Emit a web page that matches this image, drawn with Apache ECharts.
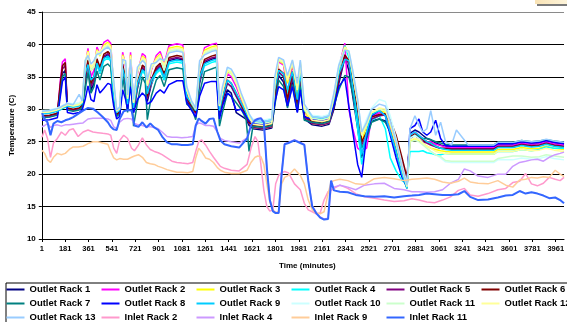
<!DOCTYPE html>
<html><head><meta charset="utf-8">
<script src="https://cdn.jsdelivr.net/npm/echarts@6/dist/echarts.min.js"></script>
<style>html,body{margin:0;padding:0;background:#fff}#c{width:567px;height:322px}</style>
</head><body><div id="c"></div>
<script>
// minutes at which outlet readings were sampled
const outletTimes = [1,60,120,143,159,181,197,242,288,311,334,356,379,402,425,448,478,509,531,554,577,600,623,646,661,684,707,737,775,798,813,844,882,912,943,980,1041,1087,1117,1155,1186,1216,1254,1307,1346,1369,1392,1430,1460,1498,1536,1574,1597,1627,1703,1772,1795,1825,1863,1893,1931,1969,1992,2023,2084,2160,2213,2251,2289,2335,2366,2396,2434,2465,2503,2541,2601,2647,2685,2730,2776,2814,2837,2875,2906,2936,2967,2997,3035,3073,3111,3157,3195,3286,3400,3484,3514,3629,3697,3773,3834,3887,3948,4024];
const inletTimes = [1,22,44,67,90,120,151,181,212,242,280,318,356,394,432,470,509,531,554,577,600,631,661,692,714,745,775,806,836,867,897,927,965,1003,1041,1079,1125,1163,1186,1209,1231,1262,1292,1323,1353,1376,1407,1460,1521,1582,1612,1643,1665,1688,1711,1734,1757,1780,1802,1825,1848,1871,1901,1947,1992,2023,2053,2084,2114,2145,2175,2206,2229,2251,2297,2358,2419,2487,2563,2639,2715,2791,2852,2906,2967,3027,3088,3149,3210,3256,3301,3362,3438,3514,3575,3629,3682,3728,3773,3819,3865,3910,3956,3994,4024];

const outletRack1 = [28.8,28.9,29.2,33,35.5,36,30.0,29.8,30.0,30.4, 34,37.1,33,34,37.3,35.5,38.0,38.4,37.9,31.5, 29.0,29.4,36.5,33.5,30,36.5,29.5,33.2,36.3,35.9, 31.2,33.8,36.0,36.6,34.5,37.5,37.8,37.6,31.2,30.3, 29.3,34,37.2,37.7,37.9,29,30.8,33,32.5,29.5, 29,28.5,27.5,27.0,26.8,27.1,31,35.2,34.2,30.5, 34.5,29.8,34.3,28.5,27.6,27.4,27.7,30,34,37.9, 36,32,27,22.5,26,28.2,28.5,28.2,26.5,23.5, 19.8,18,26.3,26.8,26.5,26,25.5,25.3,24.8,24.5, 24.3,24.2,24.2,24.2,24.2,24.2,24.6,24.6,24.9,24.7, 24.8,25.1,24.8,24.6];
const outletRack2 = [28.8,28.9,29.2,34.5,37.3,37.8,30.0,29.8,30.0,30.4, 36.5,39.4,35,36,39.6,38.5,40.3,40.7,40.2,33, 29.0,29.4,38.8,36.5,31,38.8,30.5,35.5,38.6,38.2, 33,36,38.3,38.9,37,39.8,40.1,39.9,32.5,30.3, 29.3,36.5,39.5,40.0,40.2,30.5,32,35.5,35,33.5, 31.5,29.5,28.5,27.8,27.6,27.9,33,37.3,36.8,32.5, 37,31,36.8,29.5,28.4,28.2,28.5,31.5,36.5,40.2, 30,27,24,23.5,24,28.8,29.5,29.3,27,23.5, 20,18.5,26,26.5,26,25.5,25,25,24.6,24.4, 24.2,24.1,24.1,24.1,24.1,24.1,24.5,24.5,24.8,24.6, 24.7,25.0,24.7,24.5];
const outletRack3 = [29.4,29.5,29.8,30.0,30.2,30.4,30.6,30.4,30.6,31.0, 37,39.0,36,36.5,39.2,38.2,39.9,40.3,39.8,33.5, 29.6,30.0,38.4,37,31.5,38.4,30.8,35.8,38.2,37.8, 33.5,36.3,37.9,38.5,36.5,39.4,39.7,39.5,32.8,30.9, 29.9,36.8,39.1,39.6,39.8,30.3,32.5,35.8,35.5,34, 31.8,29.8,28.5,27.2,27.0,27.3,33.5,37.5,37,34, 37.2,32,37,29.8,27.8,27.6,27.9,31.8,36.3,39.8, 38.5,35,30,25,27.5,29.3,29.8,29.5,27.5,24.5, 20.5,18,25,25.5,25.2,24.8,24.3,24,23.8,23.6, 23.5,23.4,23.4,23.4,23.4,23.4,23.8,23.8,24.1,23.9, 24.0,24.3,24.0,23.8];
const outletRack4 = [29.5,29.6,29.9,30.1,30.3,30.5,30.7,30.5,30.7,31.1, 35,36.6,34,34.5,36.8,35.5,37.5,37.9,37.4,31.8, 29.7,30.1,36.0,34,30.5,36.0,30,33.5,35.8,35.4, 32,34,35.5,36.1,34.5,37.0,37.3,37.1,31.8,31.0, 30.0,34.5,36.7,37.2,37.4,29.5,31.5,34,33.5,32, 30.8,29.3,28.6,28.4,28.2,28.5,33,35.5,35,32.5, 35.2,31,35,29.8,29.0,28.8,29.1,32,36,39.8, 38,33,27,21.5,25.5,28.3,29,27,22.5,20.5, 19,18.5,23.5,23.5,23.5,23.6,23.3,23.2,23,23, 23.2,23.1,23.1,23.1,23.1,23.1,23.5,23.5,23.8,23.6, 23.8,24.2,24.0,24.0];
const outletRack5 = [28.9,29.0,29.3,33.5,36.2,36.8,30.1,29.9,30.1,30.5, 34.5,37.3,33.5,34.5,37.5,36,38.2,38.6,38.1,31.8, 29.1,29.5,36.7,34,30.3,36.7,29.8,33.6,36.5,36.1, 31.6,34.2,36.2,36.8,35,37.7,38.0,37.8,31.5,30.4, 29.4,34.5,37.4,37.9,38.1,29.2,31.2,34,33.5,32, 30.5,28.8,27.8,27.2,27.0,27.3,31.5,35.8,35,31, 35.3,30.2,35,28.8,27.8,27.6,27.9,30.2,34.5,38.1, 37,33.5,29.5,24.5,26,28.5,29,29.1,28,25.5, 22,19.2,25.5,26,25.5,25,24.8,24.5,24.2,24, 24.0,23.9,23.9,23.9,23.9,23.9,24.3,24.3,24.6,24.4, 24.5,24.8,24.5,24.3];
const outletRack6 = [29.0,29.1,29.4,34,36.7,37.2,30.2,30.0,30.2,30.6, 35,37.6,34,35,37.8,36.5,38.5,38.9,38.4,32, 29.2,29.6,37.0,34.5,30.5,37.0,30,34,36.8,36.4, 32,34.6,36.5,37.1,35.5,38.0,38.3,38.1,31.8,30.5, 29.5,35,37.7,38.2,38.4,29.5,31.5,34.5,34,32.5, 30.8,29,28,27.5,27.3,27.6,32,36.2,35.5,31.5, 35.8,30.5,35.5,29,28.1,27.9,28.2,30.5,35,38.4, 37.5,34,30,25,26.5,28.8,29.2,29.3,28.3,26, 22.5,19.5,25.8,26.2,25.8,25.3,25,24.8,24.3,24, 23.9,23.8,23.8,23.8,23.8,23.8,24.2,24.2,24.5,24.3, 24.4,24.7,24.4,24.2];
const outletRack7 = [28.7,28.8,29.1,32.5,35.0,35.5,29.9,29.7,29.9,30.3, 33,35.7,32.5,33.5,35.9,34.5,36.6,37.0,36.5,31, 28.9,29.3,35.1,32,29.5,35.1,27.4,31,35,34, 28.4,32,34.5,35.2,33.5,36.1,36.4,36.2,30.8,30.2, 28.4,32.5,35.8,36.2,36.5,27.4,29.5,32.5,32,31, 30,28.5,23.5,27.4,27.2,27.5,30.5,34.5,33.5,30.2, 33.8,29.6,33.5,28.3,28.0,27.8,28.1,30.5,33,35.2, 35,32.5,28.5,24,25.5,28,28.5,28,26.5,23.5, 20,17.8,25.5,26,25.8,25.5,25.5,25.3,25,24.8, 24.6,24.5,24.5,24.5,24.5,24.5,24.9,24.9,25.2,25.0, 25.1,25.3,25.1,24.9];
const outletRack8 = [28.3,28.4,28.7,32,34.3,35.0,29.5,29.3,29.5,29.9, 31.5,33.6,31.5,31.2,33.8,32.5,33.2,34.0,33.8,30.5, 28.5,28.9,33,31.5,30,33.5,29.5,31.5,32.5,32, 30.8,31.2,32.5,33,32.5,33.8,34.4,34.4,31,29.8, 28.8,32,34,34.3,34.3,28.5,30.5,32.5,32,29.8, 30,29,28.2,27.9,27.7,28.0,31,33.5,33,30.5, 33.5,29.5,33,28.8,28.5,28.3,28.6,30.5,33.5,34.8, 30.5,26.5,21.5,19.5,26,29,29.8,29,26,22.5, 19.5,18,27,27.5,28.5,26.5,26,26.5,28.3,25.5, 24.4,24.3,24.3,24.3,24.3,24.3,24.7,24.7,25.0,24.8, 24.9,25.2,24.9,24.7];
const outletRack9 = [29.3,29.4,29.7,29.9,30.1,30.3,30.5,30.3,30.5,30.9, 35.5,36.9,34.5,35,37.1,36,37.8,38.2,37.7,32, 29.5,29.9,36.3,34.5,30.8,36.3,30.2,34,36.1,35.7, 32.4,34.5,35.8,36.4,35,37.3,37.6,37.4,32,30.8, 29.8,35,37.0,37.5,37.7,29.8,31.8,34.5,34,32.5, 31,29.5,28.6,28.1,27.9,28.2,33,36,35.5,33, 35.8,31.5,35.5,29.8,28.7,28.5,28.8,31.5,35.5,37.7, 37.5,33.5,28.5,23,26.5,29.2,29.8,29,26.5,23.5, 20,17.8,26,26.5,26,25.5,25,24.8,24.3,24, 23.8,23.7,23.7,23.7,23.7,23.7,24.1,24.1,24.4,24.2, 24.3,24.6,24.3,24.1];
const outletRack10 = [29.8,29.9,30.2,30.4,30.6,30.8,31.0,30.8,31.0,31.4, 37,38.6,36.5,36.8,38.8,38.5,39.5,39.9,39.4,34, 30.0,30.4,38.0,37.2,32,38.0,31.2,36,37.8,37.4, 34,36.5,37.5,38.1,36.2,39.0,39.3,39.1,33.2,31.3, 30.3,37.2,38.7,39.2,39.4,30.8,33,36.3,36,34.5, 32.2,30.5,29.3,28.5,28.3,28.6,34.5,37.8,37.5,35, 37.5,33.5,37.5,30.5,29.1,28.9,29.2,32.5,37,39.4, 39,36,31.5,26.5,28.5,30.2,31.5,31.2,29,25.5, 21.5,18.5,25.5,26,25.5,24.8,24,23.5,23,22.5, 21.9,21.8,21.8,21.8,21.8,21.8,22.2,22.2,22.5,22.3, 22.4,22.7,22.4,22.2];
const outletRack11 = [29.6,29.7,30.0,30.2,30.4,30.6,30.8,30.6,30.8,31.2, 36.8,38.5,36,36.5,38.7,38.4,39.4,39.8,39.3,33.8, 29.8,30.2,37.9,36.8,31.6,37.9,31,35.8,37.7,37.3, 33.6,36.3,37.4,38.0,36,38.9,39.2,39.0,33,31.1, 30.1,37,38.6,39.1,39.3,30.5,32.8,36,35.5,34, 32,30.2,29,28.0,27.8,28.1,34,37.6,37.2,34.5, 37.3,33,37.2,30.2,28.6,28.4,28.7,32.2,36.5,39.3, 38.7,35.5,31,26,27.5,29.5,30,29.8,27.8,24.8, 20.8,18,25,25.2,25,24.5,24,23.5,23,22.7, 22.1,22.0,22.0,22.0,22.0,22.0,22.4,22.8,22.8,22.6, 22.7,23.0,22.8,22.6];
const outletRack12 = [29.5,29.6,29.9,30.1,30.3,30.5,30.7,30.5,30.7,31.1, 37.5,38.8,36.5,37,39.0,38.8,39.7,40.1,39.6,34, 29.7,30.1,38.2,37,31.8,38.2,31,36,38.0,37.6, 33.8,36.6,37.7,38.3,36.8,39.2,39.5,39.3,33,31.0, 30.0,37,38.9,39.4,39.6,30.5,32.8,36,35.8,34.3, 32,30,28.8,27.7,27.5,27.8,34,37.8,37.3,34.5, 37.5,33,37.3,30,28.3,28.1,28.4,32,36.5,39.6, 38.8,35.5,31,26,27.8,29.5,30.2,30,28,25, 21,18.2,25.3,25.5,25.3,24.8,24.3,24,23.5,23.3, 23.2,23.1,23.1,23.1,23.1,23.1,23.5,23.5,23.8,23.6, 23.7,24.0,23.7,23.5];
const outletRack13 = [29.7,29.8,30.1,30.3,30.5,30.7,30.9,30.7,32.3,31.3, 37.5,38.3,37,37.5,38.5,38.6,39.2,39.6,39.1,34.5, 29.9,30.3,37.7,37.5,32.2,37.7,31.5,36.5,37.5,37.1, 34.5,37,37.2,37.8,37.5,38.7,39.0,38.8,33.5,31.2, 30.2,37.5,38.4,38.9,39.1,30.8,33.5,36.5,36.2,34.8, 32.5,30.6,29.3,28.3,28.1,28.4,35,38,37.6,35.2, 37.6,34,37.6,30.8,28.9,28.7,29.0,32.5,36.8,39.1, 39,36,31.5,26.5,28,30,30.8,30.5,28.2,25, 21,18.3,27,29,27.5,26.5,27,29.8,26,28, 25.0,24.5,26.8,24.5,24.5,24.5,24.9,24.9,25.2,25.0, 25.1,25.4,25.1,24.9];

const inletRack2 = [25.7,26.8,25.5,22.6,24.8,25.5,26.5,26.0,26.8,27.0, 25.8,26.5,26.8,26.5,26.4,26.3,26.2,26.0,24.0,23.2, 25.2,26.0,25.5,24.0,23.6,24.5,25.6,24.5,23.8,23.5, 23.3,23.0,22.5,22.0,21.8,21.7,21.6,21.8,23.5,25.0, 25.3,24.5,23.5,22.6,21.8,21.2,20.9,20.6,20.5,21.5, 24.0,25.8,25.0,21.5,17.5,15.0,14.3,14.5,18.5,19.8, 20.2,20.4,20.2,18.5,17.6,15.5,14.5,14.2,13.9,14.0, 16.0,17.3,17.5,17.8,18.3,17.8,17.0,16.5,16.3,16.0, 15.8,15.9,16.2,16.0,15.7,15.6,16.0,16.5,17.5,17.8, 16.8,16.6,17.0,17.6,17.8,18.7,18.9,20.1,18.5,18.2, 18.6,19.5,19.2,19.0,19.5];
const inletRack4 = [27.3,27.5,27.8,27.2,27.5,27.6,27.4,27.6,27.6,27.7, 27.8,27.9,28.5,28.6,28.6,28.6,28.5,28.3,27.3,27.0, 28.0,28.5,28.6,28.5,27.8,27.6,27.5,27.3,27.3,27.2, 27.0,26.5,25.8,25.7,25.7,25.6,25.7,25.8,27.5,27.9, 27.8,27.5,27.5,27.4,26.5,25.5,25.2,25.0,24.8,25.6, 27.6,28.4,28.6,28.7,28.1,21.1,16.1,14.4,14.1,14.1, 20.1,24.7,24.9,25.3,24.9,24.6,19.1,15.1,14.1,13.4, 13.1,13.2,18.0,18.0,18.3,18.0,17.6,18.3,18.5,18.6, 17.8,17.6,17.3,17.3,17.2,17.3,17.6,18.6,19.2,20.8, 20.5,19.7,19.5,20.0,20.0,21.2,21.8,22.0,22.2,22.3, 22.0,22.6,23.0,23.2,23.4];
const inletRack9 = [23.7,23.2,22.2,21.8,22.6,23.2,23.0,23.2,23.8,24.2, 24.2,24.3,24.7,25.0,25.0,24.8,24.6,23.5,22.5,22.2, 22.4,22.3,22.3,22.6,22.8,23.0,22.6,21.8,21.6,21.5, 21.2,21.0,20.7,20.5,20.3,20.3,20.2,20.4,22.5,24.0, 23.5,22.5,22.3,21.8,21.0,20.6,20.3,20.1,20.1,20.6, 21.8,22.6,22.8,22.7,21.5,18.5,15.8,14.5,14.0,14.3, 18.5,19.5,19.8,20.8,19.8,18.5,16.0,14.5,14.0,13.9, 14.2,17.0,18.8,19.0,19.2,19.0,18.5,18.4,19.3,19.5, 19.3,19.0,19.2,19.3,19.4,19.2,18.8,18.6,18.9,19.4, 18.8,18.6,18.5,19.0,18.3,18.0,19.1,19.2,19.5,19.4, 19.6,19.5,20.6,20.0,19.6];
const inletRack11 = [29.4,28.5,28.0,26.0,27.8,28.2,28.0,28.3,28.5,28.8, 29.3,29.8,30.2,30.1,29.5,28.8,28.0,27.3,26.9,26.8, 28.5,29.7,29.9,29.8,27.5,27.3,28.0,27.2,27.8,27.2, 26.8,25.8,24.9,24.6,24.6,24.5,24.5,24.6,27.5,28.6, 28.2,27.8,28.5,28.6,26.5,25.2,24.6,24.3,24.1,25.5, 27.5,28.3,28.5,28.6,28.0,21.0,16.0,14.3,14.0,14.0, 20.0,24.6,24.8,25.2,24.8,24.5,19.0,15.0,14.0,13.3, 13.0,13.1,19.0,17.5,17.3,17.2,16.8,16.6,16.5,16.6, 16.4,16.6,16.7,16.8,17.0,16.9,16.8,16.8,16.9,17.4, 16.5,16.0,16.1,16.4,16.7,16.8,17.4,17.0,17.2,17.0, 16.7,16.3,16.4,16.0,15.5];

const seriesNames = ['Outlet Rack 1','Outlet Rack 2','Outlet Rack 3','Outlet Rack 4','Outlet Rack 5','Outlet Rack 6','Outlet Rack 7','Outlet Rack 8','Outlet Rack 9','Outlet Rack 10','Outlet Rack 11','Outlet Rack 12','Outlet Rack 13','Inlet Rack 2','Inlet Rack 4','Inlet Rack 9','Inlet Rack 11'];
const seriesValues = [outletRack1,outletRack2,outletRack3,outletRack4,outletRack5,outletRack6,outletRack7,outletRack8,outletRack9,outletRack10,outletRack11,outletRack12,outletRack13,inletRack2,inletRack4,inletRack9,inletRack11];
const seriesColors = ['#000080','#FF00FF','#FFFF00','#00FFFF','#800080','#800000','#008080','#0000FF','#00CCFF','#CCFFFF','#CCFFCC','#FFFF99','#99CCFF','#FF99CC','#CC99FF','#FFCC99','#3366FF'];
const yTicks = [10,15,20,25,30,35,40,45];

const FONT = '"Liberation Sans", Arial, sans-serif';
const chart = echarts.init(document.getElementById('c'), null, {renderer: 'canvas'});

const series = seriesNames.map((name, i) => {
  const times = i < 13 ? outletTimes : inletTimes;
  return {
    name, type: 'line', symbol: 'none', silent: true, animation: false,
    color: seriesColors[i],
    lineStyle: {width: i === 16 ? 2 : 1.5, color: seriesColors[i]},
    data: seriesValues[i].map((v, k) => [times[k], v])
  };
});

const legendCols = [
  ['Outlet Rack 1','Outlet Rack 7','Outlet Rack 13'],
  ['Outlet Rack 2','Outlet Rack 8','Inlet Rack 2'],
  ['Outlet Rack 3','Outlet Rack 9','Inlet Rack 4'],
  ['Outlet Rack 4','Outlet Rack 10','Inlet Rack 9'],
  ['Outlet Rack 5','Outlet Rack 11','Inlet Rack 11'],
  ['Outlet Rack 6','Outlet Rack 12']
];
const legendLeft = [6.5, 101.5, 196.5, 291.5, 386.5, 481.5];
const legends = legendCols.map((d, i) => ({
  data: d, orient: 'vertical', left: legendLeft[i], top: 284, height: 80, width: 100,
  itemWidth: 18, itemHeight: 2, itemGap: 3, icon: 'rect', padding: 0,
  selectedMode: false,
  textStyle: {fontFamily: FONT, fontWeight: 'bold', fontSize: 9.5, color: '#000', lineHeight: 11}
}));

chart.setOption({
  backgroundColor: '#fff',
  animation: false,
  grid: {left: 38, right: 0, top: 12, bottom: 83, containLabel: false},
  xAxis: {
    type: 'value', min: 0, max: 4024, interval: 180,
    name: 'Time (minutes)', nameLocation: 'middle', nameGap: 23,
    nameTextStyle: {fontFamily: FONT, fontWeight: 'bold', fontSize: 8, color: '#000', padding: [0, 0, 0, 9]},
    axisLine: {lineStyle: {color: '#000', width: 1}},
    axisTick: {length: 3, lineStyle: {color: '#000'}},
    axisLabel: {fontFamily: FONT, fontWeight: 'bold', fontSize: 7.5, color: '#000', margin: 6,
      showMaxLabel: false, formatter: v => String(v + 1)},
    splitLine: {show: false}
  },
  yAxis: {
    type: 'value', min: yTicks[0], max: yTicks[yTicks.length - 1], interval: 5,
    name: 'Temperature (C)', nameLocation: 'middle', nameGap: 23, nameRotate: 90,
    nameTextStyle: {fontFamily: FONT, fontWeight: 'bold', fontSize: 8, color: '#000'},
    axisLine: {show: true, lineStyle: {color: '#000', width: 1}},
    axisTick: {show: true, length: 3, lineStyle: {color: '#000'}},
    axisLabel: {fontFamily: FONT, fontWeight: 'bold', fontSize: 8, color: '#000', margin: 6},
    splitLine: {show: true, lineStyle: {color: ['#000','#000','#000','#000','#000','#000','#000','#8a8a8a'], width: 1}}
  },
  legend: legends,
  graphic: [
    {type: 'rect', left: 3.5, top: 280.5, shape: {x: 0, y: 0, width: 620, height: 60},
      style: {fill: 'none', stroke: '#000', lineWidth: 1}, silent: true},
    {type: 'rect', left: 535, top: 0, shape: {x: 0, y: 0, width: 32, height: 4},
      style: {fill: new echarts.graphic.LinearGradient(0, 0, 1, 0, [{offset: 0, color: '#f9e3b5'}, {offset: 1, color: '#fdf4da'}])}, silent: true},
    {type: 'rect', left: 537, top: 4, shape: {x: 0, y: 0, width: 30, height: 2},
      style: {fill: '#7a7a7a'}, silent: true}
  ],
  series
});
</script>
</body></html>
